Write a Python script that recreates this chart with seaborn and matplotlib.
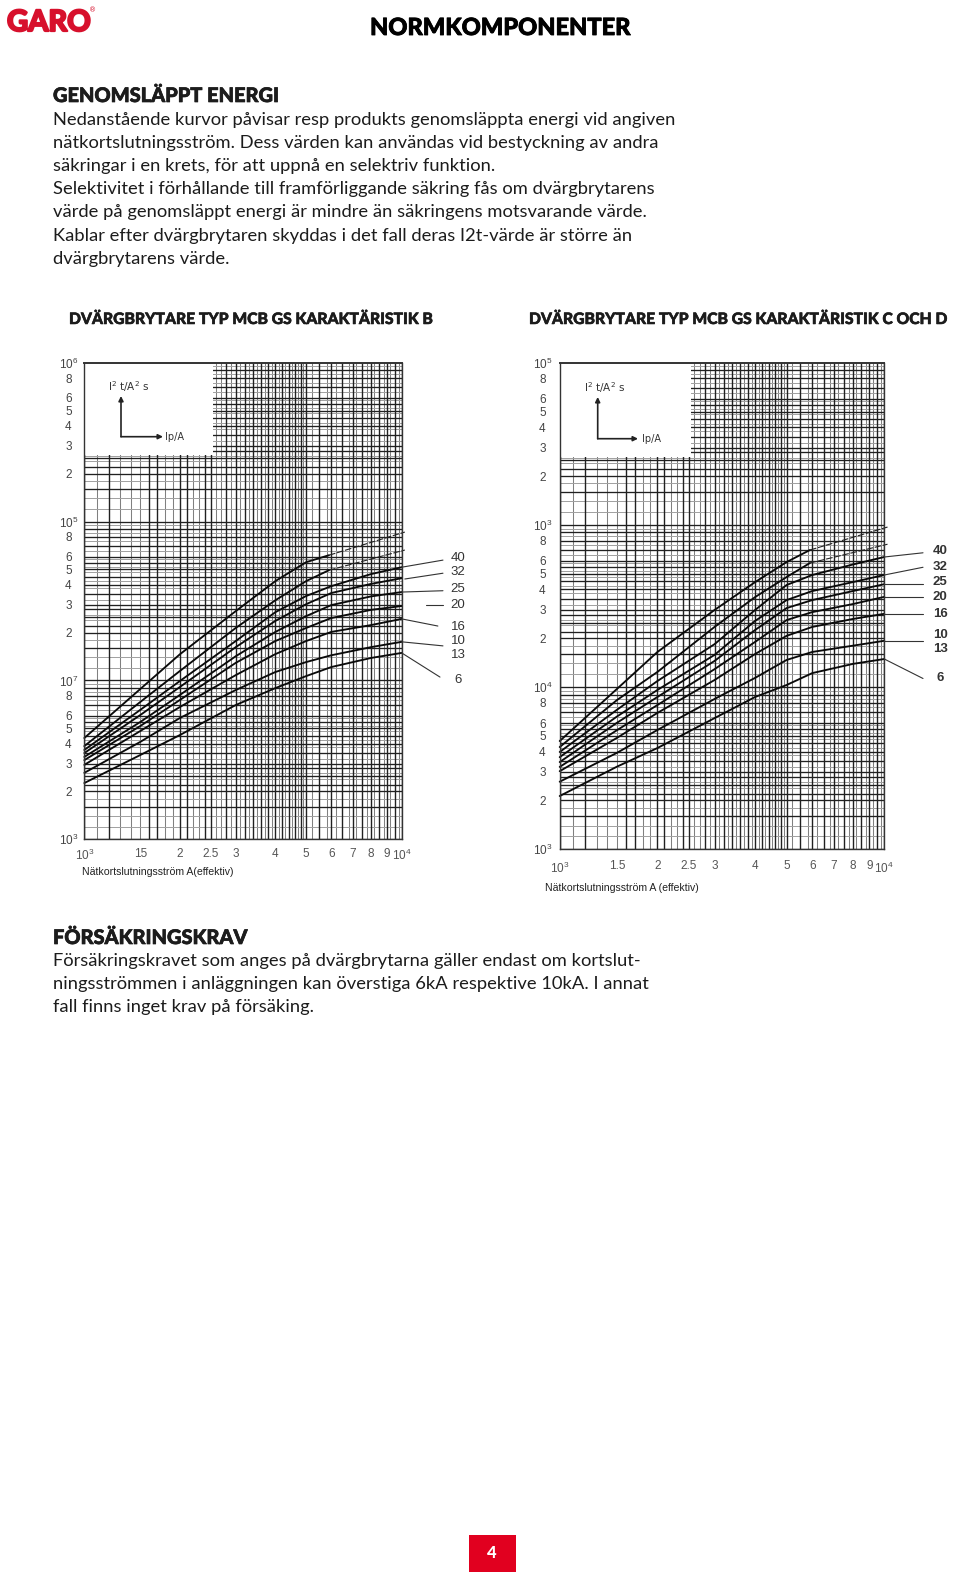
import matplotlib
matplotlib.use("Agg")
import matplotlib.pyplot as plt
import matplotlib.patheffects as pe
from matplotlib.patches import Rectangle
import pandas as pd
import seaborn as sns

W, H = 960, 1572
sns.set_theme(style="white")
BODY = ["Lato", "DejaVu Sans"]
plt.rcParams["font.family"] = BODY
plt.rcParams["mathtext.default"] = "regular"

# ---------- text ----------
page_title = "NORMKOMPONENTER"
head_1 = "GENOMSLÄPPT ENERGI"
body_1 = ["Nedanstående kurvor påvisar resp produkts genomsläppta energi vid angiven",
          "nätkortslutningsström. Dess värden kan användas vid bestyckning av andra",
          "säkringar i en krets, för att uppnå en selektriv funktion.",
          "Selektivitet i förhållande till framförliggande säkring fås om dvärgbrytarens",
          "värde på genomsläppt energi är mindre än säkringens motsvarande värde.",
          "Kablar efter dvärgbrytaren skyddas i det fall deras I2t-värde är större än",
          "dvärgbrytarens värde."]
head_2 = "FÖRSÄKRINGSKRAV"
body_2 = ["Försäkringskravet som anges på dvärgbrytarna gäller endast om kortslut-",
          "ningsströmmen i anläggningen kan överstiga 6kA respektive 10kA. I annat",
          "fall finns inget krav på försäking."]
title_left = "DVÄRGBRYTARE TYP MCB GS KARAKTÄRISTIK B"
title_right = "DVÄRGBRYTARE TYP MCB GS KARAKTÄRISTIK C OCH D"
xlabel_left = "Nätkortslutningsström A(effektiv)"
xlabel_right = "Nätkortslutningsström A (effektiv)"

# ---------- axis ticks ----------
x_ticks = [1000, 1500, 2000, 2500, 3000, 4000, 5000, 6000, 7000, 8000, 9000, 10000]
x_labels_left = ["10$^3$", "15", "2", "2.5", "3", "4", "5", "6", "7", "8", "9", "10$^4$"]
x_labels_right = ["10$^3$", "1.5", "2", "2.5", "3", "4", "5", "6", "7", "8", "9", "10$^4$"]
y_ticks = [1e3, 2e3, 3e3, 4e3, 5e3, 6e3, 8e3,
           1e4, 2e4, 3e4, 4e4, 5e4, 6e4, 8e4,
           1e5, 2e5, 3e5, 4e5, 5e5, 6e5, 8e5, 1e6]
y_labels_left = ["10$^3$", "2", "3", "4", "5", "6", "8",
                 "10$^7$", "2", "3", "4", "5", "6", "8",
                 "10$^5$", "2", "3", "4", "5", "6", "8", "10$^6$"]
y_labels_right = ["10$^3$", "2", "3", "4", "5", "6", "8",
                  "10$^4$", "2", "3", "4", "5", "6", "8",
                  "10$^3$", "2", "3", "4", "5", "6", "8", "10$^5$"]

# ---------- paper grid, multipliers within one decade ----------
x_dark = [1, 1.2, 1.6, 1.7, 2, 2.1, 2.4, 2.5, 2.8, 3, 3.2, 3.4, 3.6, 3.8, 4, 4.2, 4.4, 4.6, 4.8,
          5, 5.5, 6, 6.5, 7, 7.5, 8, 8.5, 9, 9.5, 10]
x_light = [1.1, 1.3, 1.4, 1.5, 1.8, 1.9, 2.2, 2.3, 2.6, 2.7, 2.9, 3.1, 3.3, 3.5, 3.7, 3.9,
           4.1, 4.3, 4.5, 4.7, 4.9, 5.2, 5.8, 6.2, 6.8, 7.2, 7.8, 8.2, 8.8, 9.2, 9.8]
y_dark = [1, 1.6, 2, 2.2, 2.5, 2.8, 3, 3.5, 4, 4.5, 5, 5.5, 6, 7, 8, 9]
y_light = [1.2, 1.4, 1.8, 2.4, 2.6, 3.2, 3.8, 4.2, 4.8, 5.2, 5.8, 6.5, 7.5, 8.5, 9.5]
y_decades = [1e3, 1e4, 1e5]

# ---------- curves: left chart ----------
x_solid = [1000, 1500, 2000, 3000, 4000, 5000, 6000, 8000, 10000]
left_40 = [3650, 6520, 9910, 17700, 26900, 34000, 39200, 46700, 51600]
left_32 = [3490, 6050, 9090, 16200, 23700, 30200, 35500, 40500, 44000]
left_25 = [3300, 5470, 8100, 14200, 20200, 25400, 29800, 33800, 36000]
left_20 = [3150, 5160, 7530, 12900, 17700, 21400, 24700, 27800, 29400]
left_16 = [2940, 4800, 6800, 10800, 14650, 17700, 20200, 22300, 24400]
left_13 = [2620, 4100, 5800, 8700, 11300, 13050, 14400, 16200, 17500]
left_6 = [2260, 3390, 4530, 7000, 8950, 10650, 12140, 13850, 14900]
x_top = [1000, 1500, 2000, 3000, 4000, 5000, 5900]
left_top_a = [4340, 8820, 14600, 27300, 42200, 55500, 61400]
left_top_b = [3860, 7310, 11460, 21400, 31970, 42200, 49400]
x_dash = [5900, 10230]
left_dash_a = [61400, 85900]
left_dash_b = [49400, 66200]

# ---------- curves: right chart ----------
right_40 = [3980, 7240, 10900, 18400, 29900, 42600, 49100, 57000, 63400]
right_32 = [3700, 6580, 9600, 15800, 25600, 34400, 39100, 44400, 49100]
right_25 = [3450, 6020, 8690, 14500, 22500, 30700, 34400, 39100, 43100]
right_20 = [3220, 5420, 7750, 12900, 19000, 25900, 29000, 32500, 36000]
right_16 = [3030, 4860, 6930, 11060, 16000, 20700, 23500, 26300, 28300]
right_13 = [2610, 3930, 5440, 8450, 11400, 14700, 16470, 18000, 19300]
right_6 = [2130, 3230, 4210, 6440, 8690, 10300, 12200, 13900, 14900]
right_top_a = [4650, 9730, 16460, 29900, 44400, 59000, 70000]
right_top_b = [4270, 8310, 12400, 23500, 35900, 47700, 58200]
right_dash_a = [70000, 97000]
right_dash_b = [58200, 76000]

# ---------- curve labels and their leaders ----------
curve_names = ["40", "32", "25", "20", "16", "10", "13", "6"]
left_label_y = [58800, 48000, 37600, 29800, 21800, 17800, 14550, 10060]
right_label_y = [69000, 55300, 44500, 35800, 28400, 21000, 17200, 11300]
left_lead_from = [(10000, 51600), (10230, 43500), (10000, 36000), (11900, 29800),
                  (10000, 24400), (10000, 17500), (10000, 14900)]
left_lead_to = [(13490, 57200), (13490, 47300), (13490, 36700), (13490, 29800),
                (13000, 22000), (13490, 16500), (13200, 10500)]
right_lead_from = [(10000, 63400), (10000, 49100), (10000, 43100), (10000, 36000),
                   (10000, 28300), (10000, 19300), (10000, 14900)]
right_lead_to = [(13160, 67300), (13160, 54800), (13160, 43100), (13160, 36000),
                 (13160, 28300), (13160, 19300), (13160, 11300)]


def frame(names_values, xs):
    rows = []
    for name, vals in names_values.items():
        rows += [{"x": a, "y": b, "curve": name} for a, b in zip(xs, vals)]
    return pd.DataFrame(rows)


fig = plt.figure(figsize=(W / 100, H / 100), dpi=100, facecolor="white")


def T(x, y, s, heavy=0, **kw):
    kw.setdefault("va", "baseline")
    t = fig.text(x / W, 1 - y / H, s, **kw)
    if heavy:
        t.set_path_effects([pe.withStroke(linewidth=heavy, foreground=kw.get("color", "black"))])
    return t


def figpos(x, y):
    return (x / W, 1 - y / H)


def chart(box, solid, top, dash, xlabels, ylabels, label_y, lead_from, lead_to,
          inset, label_x, ypad, xpad, bold_labels):
    L, T0, R, B = box
    ax = fig.add_axes([L / W, 1 - B / H, (R - L) / W, (B - T0) / H])
    ax.set_xscale("log")
    ax.set_yscale("log")
    ax.set_xlim(1e3, 1e4)
    ax.set_ylim(1e3, 1e6)
    ax.minorticks_off()
    ax.vlines([m * 1e3 for m in x_light], 1e3, 1e6, color="#808080", lw=0.75, zorder=1)
    ax.vlines([m * 1e3 for m in x_dark], 1e3, 1e6, color="#202020", lw=1.0, zorder=1.2)
    for d in y_decades:
        ax.hlines([m * d for m in y_light], 1e3, 1e4, color="#a0a0a0", lw=0.7, zorder=1)
        ax.hlines([m * d for m in y_dark], 1e3, 1e4, color="#202020", lw=0.95, zorder=1.2)
    # white inset that masks the paper grid
    bx, by = inset["box"]
    ax.add_patch(Rectangle((0, 1 - (by - T0) / (B - T0)), (bx - L) / (R - L), (by - T0) / (B - T0),
                           transform=ax.transAxes, fc="white", ec="none", zorder=2))
    # curves
    sns.lineplot(data=frame(solid, x_solid), x="x", y="y", units="curve", estimator=None,
                 color="#0a0a0a", lw=1.35, ax=ax, legend=False, zorder=4)
    sns.lineplot(data=frame(top, x_top), x="x", y="y", units="curve", estimator=None,
                 color="#0a0a0a", lw=1.35, ax=ax, legend=False, zorder=4)
    sns.lineplot(data=frame(dash, x_dash), x="x", y="y", units="curve", estimator=None,
                 color="#222222", lw=0.8, ax=ax, legend=False, zorder=4, linestyle=(0, (6, 1.5)))
    for line in ax.lines:
        line.set_clip_on(False)
    # leaders
    for a, b in zip(lead_from, lead_to):
        ax.plot([a[0], b[0]], [a[1], b[1]], color="#333333", lw=0.8, clip_on=False, zorder=4)
    for name, y in zip(curve_names, label_y):
        ax.text(label_x, y, name, ha="center", va="center", fontsize=9.5, color="#333333",
                family="Liberation Sans", weight="bold" if bold_labels else "normal", clip_on=False)
    # ticks
    ax.set_xticks(x_ticks, xlabels, fontsize=8.5, color="#555555", family="Liberation Sans")
    ax.set_yticks(y_ticks, ylabels, fontsize=8.5, color="#444444", family="Liberation Sans")
    ax.minorticks_off()
    ax.tick_params(axis="x", length=0, pad=xpad)
    ax.tick_params(axis="y", length=0, pad=ypad)
    for t in ax.get_yticklabels():
        t.set_ha("center")
    ax.set_xlabel("")
    ax.set_ylabel("")
    for s in ax.spines.values():
        s.set_color("#333333")
        s.set_linewidth(1.0)
        s.set_zorder(5)
    ax.spines["top"].set_linewidth(1.4)
    # inset axes sketch
    ox, oy = inset["origin"]
    ax.annotate("", xy=figpos(ox, inset["up"]), xytext=figpos(ox, oy), xycoords="figure fraction",
                textcoords="figure fraction",
                arrowprops=dict(arrowstyle="-|>", color="#222222", lw=1.2, mutation_scale=7, shrinkA=0, shrinkB=0),
                zorder=6)
    ax.annotate("", xy=figpos(inset["right"], oy), xytext=figpos(ox, oy), xycoords="figure fraction",
                textcoords="figure fraction",
                arrowprops=dict(arrowstyle="-|>", color="#222222", lw=1.2, mutation_scale=7, shrinkA=0, shrinkB=0),
                zorder=6)
    ax.text(*figpos(*inset["top_pos"]), "I$^2$ t/A$^2$ s", transform=fig.transFigure, ha="center", va="center",
            fontsize=7.5, family="DejaVu Sans", color="#333333", zorder=6)
    ax.text(*figpos(*inset["ip_pos"]), "Ip/A", transform=fig.transFigure, ha="left", va="center",
            fontsize=7, family="DejaVu Sans", color="#333333", zorder=6)
    return ax


chart((84.3, 362.7, 401.7, 839.3),
      {"40": left_40, "32": left_32, "25": left_25, "20": left_20, "16": left_16, "13": left_13, "6": left_6},
      {"a": left_top_a, "b": left_top_b}, {"a": left_dash_a, "b": left_dash_b},
      x_labels_left, y_labels_left, left_label_y, left_lead_from, left_lead_to,
      dict(box=(212.7, 455), origin=(121, 436.7), up=396, right=163, top_pos=(129, 387), ip_pos=(165, 436.5)),
      15050, 11.5, 6, False)

chart((559.7, 362.7, 884.3, 849.3),
      {"40": right_40, "32": right_32, "25": right_25, "20": right_20, "16": right_16, "13": right_13, "6": right_6},
      {"a": right_top_a, "b": right_top_b}, {"a": right_dash_a, "b": right_dash_b},
      x_labels_right, y_labels_right, right_label_y, right_lead_from, right_lead_to,
      dict(box=(691, 456.7), origin=(597.7, 438.7), up=397, right=638, top_pos=(605, 388), ip_pos=(642, 438.5)),
      14860, 12.5, 8, True)

# ---------- page furniture ----------
INK = "#1c1c1c"
BODY_SIZE = 13.2
T(7, 31, "GARO", heavy=1.6, fontsize=21, weight="bold", color="#d7102c", ha="left")
T(89, 12, "®", fontsize=5, color="#d7102c", ha="left", family="DejaVu Sans")
T(500, 35, page_title, heavy=0.6, fontsize=17, weight=900, color="black", ha="center")
T(53, 102, head_1, heavy=0.5, fontsize=14.4, weight=900, color=INK, ha="left")
for yy, line in zip([125, 148, 171, 194, 217, 240.5, 264], body_1):
    T(53, yy, line, fontsize=BODY_SIZE, color=INK, ha="left")
T(69, 324, title_left, heavy=0.4, fontsize=11.3, weight=900, color=INK, ha="left")
T(529, 324, title_right, heavy=0.4, fontsize=11.3, weight=900, color=INK, ha="left")
T(82, 875, xlabel_left, fontsize=7.55, color="#222222", ha="left", family="Liberation Sans")
T(545, 891, xlabel_right, fontsize=7.55, color="#222222", ha="left", family="Liberation Sans")
T(53, 944, head_2, heavy=0.5, fontsize=14.4, weight=900, color=INK, ha="left")
for yy, line in zip([966, 989, 1012], body_2):
    T(53, yy, line, fontsize=BODY_SIZE, color=INK, ha="left")
fig.add_artist(Rectangle((469 / W, 0), 47 / W, 37 / H, transform=fig.transFigure, fc="#e1001f", ec="none"))
T(492, 1558, "4", fontsize=12, weight=900, color="white", ha="center")

fig.savefig("out.png", dpi=100, facecolor="white")
